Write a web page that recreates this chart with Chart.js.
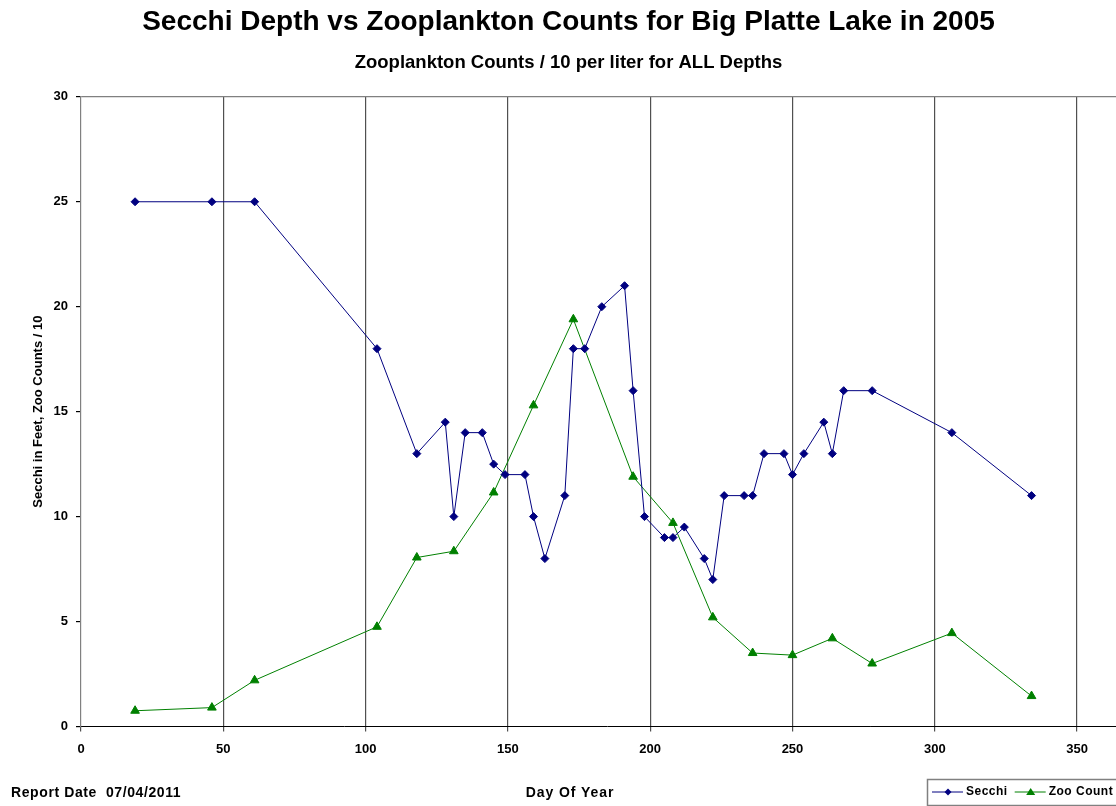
<!DOCTYPE html>
<html>
<head>
<meta charset="utf-8">
<script src="https://cdn.jsdelivr.net/npm/chart.js@4.4.1/dist/chart.umd.min.js"></script>
<style>
    html, body { margin: 0; padding: 0; background: #fff; overflow: hidden; }
    #wrap { width: 1140px; height: 806px; }
</style>
</head>
<body>
<div id="wrap"><canvas id="lakeChart" width="1140" height="806"></canvas></div>
<script>
// Secchi depth readings (feet) by day of year
const secchiDays = [19, 46, 61, 104, 118, 128, 131, 135, 141, 145, 149, 156, 159, 163, 170, 173, 177, 183, 191, 194, 198, 205, 208, 212, 219, 222, 226, 233, 236, 240, 247, 250, 254, 261, 264, 268, 278, 306, 334];
const secchiValues = [25, 25, 25, 18, 13, 14.5, 10, 14, 14, 12.5, 12, 12, 10, 8, 11, 18, 18, 20, 21, 16, 10, 9, 9, 9.5, 8, 7, 11, 11, 11, 13, 13, 12, 13, 14.5, 13, 16, 16, 14, 11];

// Zooplankton counts / 10 per liter
const zooDays = [19, 46, 61, 104, 118, 131, 145, 159, 173, 194, 208, 222, 236, 250, 264, 278, 306, 334];
const zooValues = [0.75, 0.9, 2.2, 4.75, 8.05, 8.35, 11.15, 15.3, 19.4, 11.9, 9.7, 5.2, 3.5, 3.4, 4.2, 3.0, 4.45, 1.45];

const xTicks = [0, 50, 100, 150, 200, 250, 300, 350];
const reportDate = '07/04/2011';

const FONT = '"Liberation Sans", Arial, sans-serif';

function toPoints(xs, ys) {
    return xs.map((x, i) => ({ x: x, y: ys[i] }));
}

// footer texts + legend box (the original legend sits bottom right, partly cut off)
const footerPlugin = {
    id: 'footer',
    afterDraw(chart) {
        const ctx = chart.ctx;
        ctx.save();
        ctx.fillStyle = '#000';
        ctx.font = 'bold 14px ' + FONT;
        ctx.letterSpacing = '0.6px';
        ctx.textBaseline = 'middle';
        ctx.textAlign = 'left';
        ctx.fillText('Report Date  ' + reportDate, 11, 793);
        ctx.letterSpacing = '0.9px';
        ctx.textAlign = 'center';
        ctx.fillText('Day Of Year', chart.width / 2, 793);

        // legend
        ctx.strokeStyle = '#808080';
        ctx.lineWidth = 1.5;
        ctx.strokeRect(927.5, 779.5, 260, 26);
        ctx.font = 'bold 12px ' + FONT;
        ctx.letterSpacing = '0.5px';
        ctx.textAlign = 'left';
        const ds = chart.data.datasets;
        let x = 932;
        const y = 792;
        ds.forEach((d) => {
            ctx.strokeStyle = d.borderColor;
            ctx.lineWidth = 1;
            ctx.beginPath();
            ctx.moveTo(x, y);
            ctx.lineTo(x + 31, y);
            ctx.stroke();
            ctx.fillStyle = d.borderColor;
            const cx = x + 16;
            ctx.beginPath();
            if (d.pointStyle === 'triangle') {
                ctx.moveTo(cx, y - 4);
                ctx.lineTo(cx + 4.5, y + 3);
                ctx.lineTo(cx - 4.5, y + 3);
            } else {
                ctx.moveTo(cx, y - 3.5);
                ctx.lineTo(cx + 3.5, y);
                ctx.lineTo(cx, y + 3.5);
                ctx.lineTo(cx - 3.5, y);
            }
            ctx.closePath();
            ctx.fill();
            ctx.fillStyle = '#000';
            ctx.fillText(d.label, x + 34, y);
            x += 34 + ctx.measureText(d.label).width + 7;
        });
        ctx.restore();
    }
};

const ctx = document.getElementById('lakeChart').getContext('2d');
const lakeChart = new Chart(ctx, {
    type: 'line',
    data: {
        datasets: [
            {
                label: 'Secchi',
                data: toPoints(secchiDays, secchiValues),
                borderColor: '#000080',
                backgroundColor: '#000080',
                borderWidth: 1,
                pointStyle: 'rectRot',
                pointRadius: 4,
                pointHoverRadius: 4,
                tension: 0
            },
            {
                label: 'Zoo Count',
                data: toPoints(zooDays, zooValues),
                borderColor: '#008000',
                backgroundColor: '#008000',
                borderWidth: 1,
                pointStyle: 'triangle',
                pointRadius: 5,
                pointHoverRadius: 5,
                tension: 0
            }
        ]
    },
    options: {
        responsive: false,
        animation: false,
        layout: { padding: { left: 0, right: 3, top: 0, bottom: 0 } },
        plugins: {
            legend: { display: false },
            tooltip: { enabled: false },
            title: {
                display: true,
                text: 'Secchi Depth vs Zooplankton Counts for Big Platte Lake in 2005',
                color: '#000',
                font: { family: FONT, size: 28, weight: 'bold' },
                padding: { top: 5, bottom: 6 }
            },
            subtitle: {
                display: true,
                text: 'Zooplankton Counts / 10 per liter for ALL Depths',
                color: '#000',
                font: { family: FONT, size: 18.5, weight: 'bold' },
                padding: { top: 7, bottom: 23 }
            }
        },
        scales: {
            x: {
                type: 'linear',
                min: 0,
                max: 370,
                afterBuildTicks: (scale) => {
                    scale.ticks = xTicks.map(v => ({ value: v }));
                },
                afterFit: (scale) => { scale.height = 79.5; },
                border: { color: '#000', width: 1 },
                grid: {
                    color: (c) => c.tick && c.tick.value === 0 ? 'rgba(0,0,0,0)' : '#505050',
                    lineWidth: 1.2,
                    tickColor: '#505050',
                    tickLength: 5
                },
                ticks: {
                    color: '#000',
                    padding: 10,
                    maxRotation: 0,
                    font: { family: FONT, size: 13, weight: 'bold' }
                }
            },
            y: {
                min: 0,
                max: 30,
                afterFit: (scale) => { scale.width = 81; },
                border: { color: '#808080', width: 1.2 },
                grid: {
                    color: (c) => c.tick && c.tick.value === 30 ? '#808080' : 'rgba(0,0,0,0)',
                    lineWidth: 1.2,
                    tickColor: '#000',
                    tickLength: 5
                },
                ticks: {
                    stepSize: 5,
                    color: '#000',
                    padding: 8,
                    font: { family: FONT, size: 13, weight: 'bold' }
                },
                title: {
                    display: true,
                    text: 'Secchi in Feet, Zoo Counts / 10',
                    color: '#000',
                    font: { family: FONT, size: 13, weight: 'bold' },
                    padding: { top: 31, bottom: 0 }
                }
            }
        }
    },
    plugins: [footerPlugin]
});
</script>
</body>
</html>
